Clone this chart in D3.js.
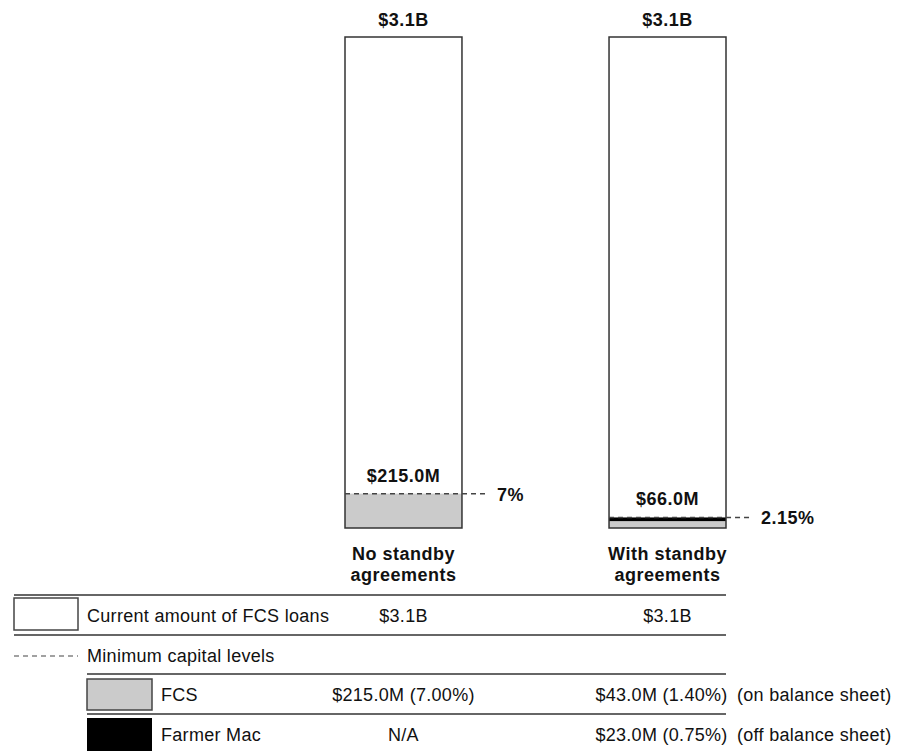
<!DOCTYPE html>
<html>
<head>
<meta charset="utf-8">
<script src="https://cdn.jsdelivr.net/npm/d3@7"></script>
<style>
  html, body { margin: 0; padding: 0; background: #fff; }
  svg { display: block; font-family: "Liberation Sans", Arial, Helvetica, sans-serif; }
</style>
</head>
<body>
<svg id="chart" width="913" height="753"></svg>
<script>
// ---- Data ----
const categories = ["No standby agreements", "With standby agreements"];
const categoryLines = [["No standby", "agreements"], ["With standby", "agreements"]];
const totalLoanLabels = ["$3.1B", "$3.1B"];
const totalPct = [100, 100];
const fcsPct = [7.00, 1.40];            // FCS on balance sheet capital (% of loans)
const farmerMacPct = [0, 0.75];         // Farmer Mac off balance sheet capital (% of loans)
const minCapitalPct = [7, 2.15];        // minimum capital level
const minCapitalPctLabels = ["7%", "2.15%"];
const minCapitalAmountLabels = ["$215.0M", "$66.0M"];
const fcsTableLabels = ["$215.0M (7.00%)", "$43.0M (1.40%)"];
const farmerMacTableLabels = ["N/A", "$23.0M (0.75%)"];
const legendRows = ["Current amount of FCS loans", "Minimum capital levels", "FCS", "Farmer Mac"];
const sideNotes = ["(on balance sheet)", "(off balance sheet)"];

// ---- Layout ----
const svg = d3.select("#chart");
const x = d3.scaleBand().domain(categories).range([345, 726]).paddingInner(0.557).paddingOuter(0);
const y = d3.scaleLinear().domain([0, 100]).range([528, 37]);
const bw = x.bandwidth();
const cx = c => x(c) + bw / 2;

const dark = "#333";
const lineGray = "#666";
const boldSpacing = 0.5;
const regSpacing = 0.3;

// FCS capital (gray)
svg.selectAll("rect.fcs").data(categories).join("rect").attr("class", "fcs")
  .attr("x", c => x(c)).attr("width", bw)
  .attr("y", (c, i) => y(fcsPct[i])).attr("height", (c, i) => y(0) - y(fcsPct[i]))
  .attr("fill", "#cbcbcb");

// Farmer Mac capital (black) stacked above FCS
svg.selectAll("rect.fm").data(categories.filter((c, i) => farmerMacPct[i] > 0)).join("rect").attr("class", "fm")
  .attr("x", c => x(c)).attr("width", bw)
  .attr("y", c => { const i = categories.indexOf(c); return y(fcsPct[i] + farmerMacPct[i]); })
  .attr("height", c => { const i = categories.indexOf(c); return y(fcsPct[i]) - y(fcsPct[i] + farmerMacPct[i]); })
  .attr("fill", "#000");

// Bars: total loans outline
svg.selectAll("rect.total").data(categories).join("rect").attr("class", "total")
  .attr("x", c => x(c)).attr("width", bw)
  .attr("y", (c, i) => y(totalPct[i])).attr("height", (c, i) => y(0) - y(totalPct[i]))
  .attr("fill", "none").attr("stroke", dark).attr("stroke-width", 1.5);

// Minimum capital dashed lines
svg.selectAll("line.min").data(categories).join("line").attr("class", "min")
  .attr("x1", c => x(c)).attr("x2", c => x(c) + bw + 27)
  .attr("y1", (c, i) => y(minCapitalPct[i])).attr("y2", (c, i) => y(minCapitalPct[i]))
  .attr("stroke", "#444").attr("stroke-width", 1.5).attr("stroke-dasharray", "5,4");

// Percent labels
svg.selectAll("text.pct").data(categories).join("text").attr("class", "pct")
  .attr("x", c => x(c) + bw + 35).attr("y", (c, i) => y(minCapitalPct[i]) + 7)
  .attr("font-size", 18).attr("font-weight", "bold").attr("letter-spacing", boldSpacing).attr("fill", "#111")
  .text((c, i) => minCapitalPctLabels[i]);

// Amount labels above the min line
svg.selectAll("text.amt").data(categories).join("text").attr("class", "amt")
  .attr("x", c => cx(c)).attr("y", (c, i) => y(minCapitalPct[i]) - 12)
  .attr("text-anchor", "middle").attr("font-size", 18).attr("font-weight", "bold").attr("letter-spacing", boldSpacing).attr("fill", "#111")
  .text((c, i) => minCapitalAmountLabels[i]);

// Top total labels
svg.selectAll("text.top").data(categories).join("text").attr("class", "top")
  .attr("x", c => cx(c)).attr("y", (c, i) => y(totalPct[i]) - 11)
  .attr("text-anchor", "middle").attr("font-size", 18).attr("font-weight", "bold").attr("letter-spacing", boldSpacing).attr("fill", "#111")
  .text((c, i) => totalLoanLabels[i]);

// Category labels
categories.forEach((c, i) => {
  categoryLines[i].forEach((ln, j) => {
    svg.append("text").attr("x", cx(c)).attr("y", 560 + j * 21)
      .attr("text-anchor", "middle").attr("font-size", 18).attr("font-weight", "bold").attr("letter-spacing", boldSpacing).attr("fill", "#111")
      .text(ln);
  });
});

// ---- Table / legend ----
const hline = (x1, x2, yy) => svg.append("line").attr("x1", x1).attr("x2", x2).attr("y1", yy).attr("y2", yy)
  .attr("stroke", lineGray).attr("stroke-width", 2);
hline(14, 726, 595);
hline(14, 726, 635);
hline(87, 726, 674);
hline(87, 726, 714);

const txt = (xx, yy, s, anchor) => svg.append("text").attr("x", xx).attr("y", yy)
  .attr("text-anchor", anchor || "start").attr("font-size", 18).attr("letter-spacing", regSpacing).attr("fill", "#111").text(s);

// column positions for the table values
const colX = (c, i) => cx(c) - (i === 1 ? 6 : 0);

// Row 1
svg.append("rect").attr("x", 14).attr("y", 598).attr("width", 64).attr("height", 32)
  .attr("fill", "#fff").attr("stroke", "#444").attr("stroke-width", 1.5);
txt(87, 622, legendRows[0]);
categories.forEach((c, i) => txt(cx(c), 622, totalLoanLabels[i], "middle"));

// Row 2
svg.append("line").attr("x1", 14).attr("x2", 78).attr("y1", 656).attr("y2", 656)
  .attr("stroke", "#444").attr("stroke-width", 1.2).attr("stroke-dasharray", "5,4");
txt(87, 662, legendRows[1]);

// Row 3
svg.append("rect").attr("x", 87).attr("y", 679).attr("width", 65).attr("height", 31)
  .attr("fill", "#cbcbcb").attr("stroke", "#444").attr("stroke-width", 1.5);
txt(161, 701, legendRows[2]);
categories.forEach((c, i) => txt(colX(c, i), 701, fcsTableLabels[i], "middle"));
txt(737, 701, sideNotes[0]);

// Row 4
svg.append("rect").attr("x", 87).attr("y", 718).attr("width", 65).attr("height", 33).attr("fill", "#000");
txt(161, 741, legendRows[3]);
categories.forEach((c, i) => txt(colX(c, i), 741, farmerMacTableLabels[i], "middle"));
txt(737, 741, sideNotes[1]);
</script>
</body>
</html>
